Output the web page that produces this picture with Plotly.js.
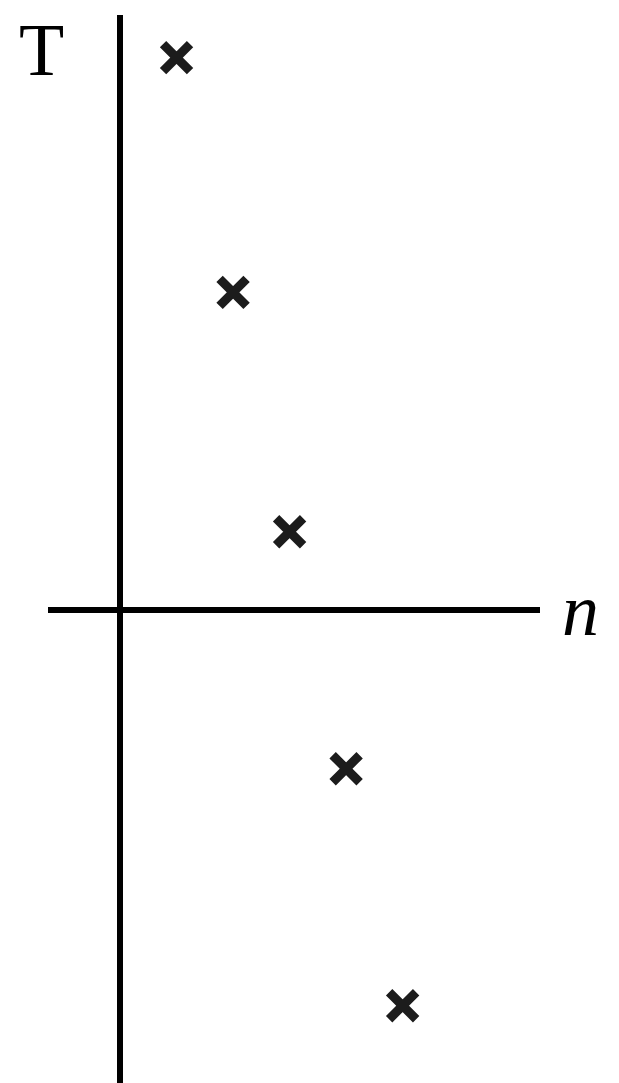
<!DOCTYPE html>
<html>
<head>
<meta charset="utf-8">
<script src="https://cdn.plot.ly/plotly-3.0.1.min.js"></script>
<style>
  html, body { margin: 0; padding: 0; background: #fff; }
  #chart { width: 619px; height: 1083px; }
</style>
</head>
<body>
<div id="chart"></div>
<script>
// sample index and value
const n = [1, 2, 3, 4, 5];
const T = [2.33, 1.34, 0.33, -0.67, -1.67];

const trace = {
  x: n,
  y: T,
  mode: "markers",
  type: "scatter",
  marker: {
    symbol: "x-thin",
    size: 27,
    color: "#1c1c1c",
    line: { color: "#1c1c1c", width: 9 },
  },
  hoverinfo: "skip",
};

// plot area is 492 x 1068 px, starting at (48, 15)
const px = (x) => (x - 48) / 492;
const py = (y) => 1 - (y - 15) / 1068;

const layout = {
  width: 619,
  height: 1083,
  margin: { l: 48, r: 79, t: 15, b: 0 },
  paper_bgcolor: "#fff",
  plot_bgcolor: "#fff",
  showlegend: false,
  xaxis: {
    range: [-1.274, 7.43],
    showgrid: false,
    showticklabels: false,
    ticks: "",
    zeroline: true,
    zerolinecolor: "#000",
    zerolinewidth: 6,
  },
  yaxis: {
    range: [-1.996, 2.51],
    showgrid: false,
    showticklabels: false,
    ticks: "",
    zeroline: true,
    zerolinecolor: "#000",
    zerolinewidth: 6,
  },
  annotations: [
    {
      text: "T",
      xref: "paper",
      yref: "paper",
      x: px(41),
      y: py(50),
      xanchor: "center",
      yanchor: "middle",
      showarrow: false,
      font: { family: "Liberation Serif", size: 74, color: "#000" },
    },
    {
      text: "<i>n</i>",
      xref: "paper",
      yref: "paper",
      x: px(580),
      y: py(610),
      xanchor: "center",
      yanchor: "middle",
      showarrow: false,
      font: { family: "Liberation Serif", size: 74, color: "#000" },
    },
  ],
};

Plotly.newPlot("chart", [trace], layout, { displayModeBar: false, staticPlot: true });
</script>
</body>
</html>
